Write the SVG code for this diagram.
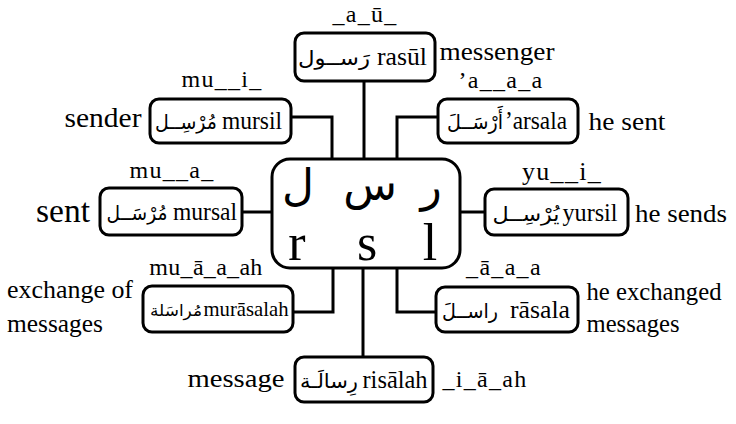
<svg xmlns="http://www.w3.org/2000/svg" width="736" height="424" viewBox="0 0 736 424">
<style>
.bx{fill:#fff;stroke:#000;stroke-width:3}
.ln{fill:none;stroke:#000;stroke-width:3}
.lat{font-family:"Liberation Serif","Times New Roman",serif;fill:#000;text-anchor:middle}
.ar{font-family:"DejaVu Sans",sans-serif;fill:#000;text-anchor:middle}
.lb{font-size:26px}
.pt{font-size:24px;letter-spacing:1.3px}
.bt{font-size:25px}
.ba{font-size:20px}
</style>
<rect width="736" height="424" fill="#fff"/>
<g id="connectors">
<line class="ln" x1="364" y1="81" x2="364" y2="159"/>
<polyline class="ln" points="291,117 332,117 332,159"/>
<polyline class="ln" points="438,117 397,117 397,159"/>
<line class="ln" x1="242" y1="212" x2="272" y2="212"/>
<line class="ln" x1="460" y1="212" x2="485" y2="212"/>
<polyline class="ln" points="293,312 333,312 333,268"/>
<polyline class="ln" points="436,312 397,312 397,268"/>
<line class="ln" x1="363" y1="268" x2="363" y2="357"/>
</g>
<g id="root">
<rect class="bx" x="272" y="159" width="188" height="109" rx="18"/>
<text class="ar" x="298" y="200" font-size="44">ل</text>
<text class="ar" x="370" y="200" font-size="44">س</text>
<text class="ar" x="431" y="201" font-size="44">ر</text>
<text class="lat" x="297" y="260" font-size="52">r</text>
<text class="lat" x="367" y="260" font-size="52">s</text>
<text class="lat" x="430" y="260" font-size="52">l</text>
</g>
<g id="rasul">
<text class="lat pt" x="365" y="22">_a_ū_</text>
<rect class="bx" x="295" y="33" width="140" height="48" rx="9"/>
<text class="ar ba" x="334" y="65" textLength="72" lengthAdjust="spacingAndGlyphs">رَســول</text>
<text class="lat bt" x="402" y="65" textLength="50" lengthAdjust="spacingAndGlyphs">rasūl</text>
<text class="lat lb" x="497" y="60" textLength="115" lengthAdjust="spacingAndGlyphs">messenger</text>
</g>
<g id="mursil">
<text class="lat pt" x="222" y="87">mu__i_</text>
<rect class="bx" x="150" y="99" width="141" height="44" rx="9"/>
<text class="ar ba" x="186" y="129" textLength="62" lengthAdjust="spacingAndGlyphs">مُرْسِــل</text>
<text class="lat bt" x="252" y="129" textLength="60" lengthAdjust="spacingAndGlyphs">mursil</text>
<text class="lat" x="103" y="127" font-size="28" textLength="77" lengthAdjust="spacingAndGlyphs">sender</text>
</g>
<g id="arsala">
<text class="lat pt" x="501" y="88">’a__a_a</text>
<rect class="bx" x="438" y="99" width="140" height="44" rx="9"/>
<text class="ar ba" x="475" y="129" textLength="56" lengthAdjust="spacingAndGlyphs">أَرْسَــلَ</text>
<text class="lat bt" x="536" y="129" textLength="62" lengthAdjust="spacingAndGlyphs">’arsala</text>
<text class="lat lb" x="627" y="130" textLength="77" lengthAdjust="spacingAndGlyphs">he sent</text>
</g>
<g id="mursal">
<text class="lat pt" x="172" y="178">mu__a_</text>
<rect class="bx" x="100" y="188" width="142" height="47" rx="9"/>
<text class="ar ba" x="137" y="220" textLength="61" lengthAdjust="spacingAndGlyphs">مُرْسَــل</text>
<text class="lat bt" x="205" y="220" textLength="64" lengthAdjust="spacingAndGlyphs">mursal</text>
<text class="lat" x="63" y="222" font-size="33" textLength="54" lengthAdjust="spacingAndGlyphs">sent</text>
</g>
<g id="yursil">
<text class="lat pt" x="562" y="180" style="font-size:26px">yu__i_</text>
<rect class="bx" x="485" y="189" width="143" height="46" rx="9"/>
<text class="ar ba" x="526" y="221" textLength="67" lengthAdjust="spacingAndGlyphs">يُرْسِــل</text>
<text class="lat bt" x="590" y="221" textLength="55" lengthAdjust="spacingAndGlyphs">yursil</text>
<text class="lat lb" x="681" y="222" textLength="92" lengthAdjust="spacingAndGlyphs">he sends</text>
</g>
<g id="murasalah">
<text class="lat pt" x="206" y="275" style="letter-spacing:0.3px">mu_ā_a_ah</text>
<rect class="bx" x="143" y="286" width="150" height="46" rx="9"/>
<text class="ar" x="176" y="316" font-size="16" textLength="52" lengthAdjust="spacingAndGlyphs">مُراسَلة</text>
<text class="lat" x="246" y="316" font-size="21" textLength="85" lengthAdjust="spacingAndGlyphs">murāsalah</text>
<text class="lat lb" x="70" y="298" textLength="126" lengthAdjust="spacingAndGlyphs">exchange of</text>
<text class="lat lb" x="55" y="332" textLength="96" lengthAdjust="spacingAndGlyphs">messages</text>
</g>
<g id="rasala">
<text class="lat pt" x="504" y="275">_ā_a_a</text>
<rect class="bx" x="436" y="287" width="142" height="45" rx="9"/>
<text class="ar ba" x="470" y="318" textLength="56" lengthAdjust="spacingAndGlyphs">راســلَ</text>
<text class="lat bt" x="540" y="318" textLength="60" lengthAdjust="spacingAndGlyphs">rāsala</text>
<text class="lat lb" x="654" y="300" textLength="135" lengthAdjust="spacingAndGlyphs">he exchanged</text>
<text class="lat lb" x="633" y="332" textLength="93" lengthAdjust="spacingAndGlyphs">messages</text>
</g>
<g id="risalah">
<rect class="bx" x="295" y="357" width="138" height="45" rx="9"/>
<text class="ar ba" x="329" y="388" textLength="58" lengthAdjust="spacingAndGlyphs">رِسالَـة</text>
<text class="lat bt" x="395" y="388" textLength="65" lengthAdjust="spacingAndGlyphs">risālah</text>
<text class="lat lb" x="236" y="387" textLength="97" lengthAdjust="spacingAndGlyphs">message</text>
<text class="lat pt" x="485" y="387">_i_ā_ah</text>
</g>
</svg>
